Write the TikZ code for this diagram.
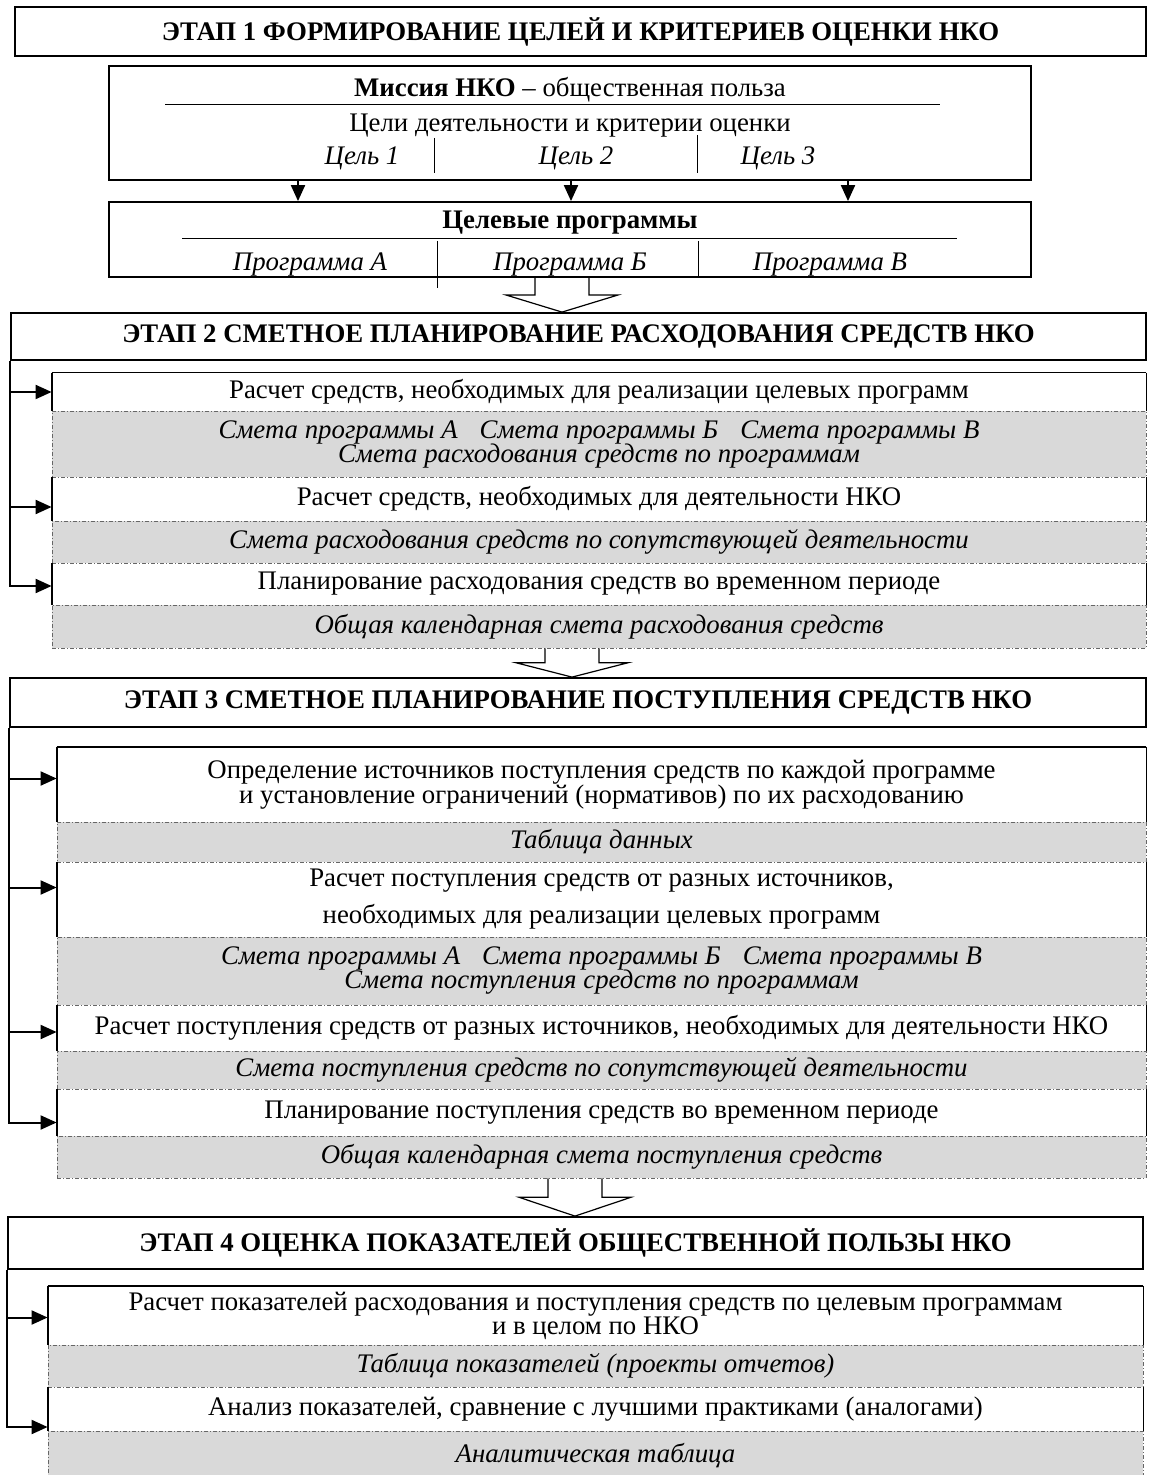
\documentclass[tikz,border=0pt]{standalone}
\usepackage{fontspec}
\setmainfont{Liberation Serif}
\usetikzlibrary{arrows.meta,calc}
\newcommand{\rowfont}{\fontsize{13.4}{11.5}\selectfont\lineskiplimit=-20pt}

\begin{document}
\begin{tikzpicture}[x=0.5pt,y=-0.5pt,>={Triangle[length=8pt,width=7pt]},
    every node/.style={font=\rowfont,inner sep=0pt},
    stage/.style={draw,line width=0.9pt,font=\rowfont\bfseries},
    goalbox/.style={draw,line width=0.9pt},
    whiterow/.style={align=center},
    grayrow/.style={align=center,fill=black!15,draw=black!60,line width=0.4pt,dash pattern=on 2pt off 1pt on 0.5pt off 1pt,font=\rowfont\itshape},
    frame/.style={line width=0.9pt},
    conn/.style={line width=1pt},
    rule/.style={line width=0.5pt},
    fat/.style={line width=0.6pt,line join=miter}]
    \fill[white] (0,0) rectangle (1149,1475);
    \useasboundingbox (0,0) rectangle (1149,1475);

    \foreach \n/\xa/\ya/\xb/\yb/\t in {
        s1/15/7/1146/56/{ЭТАП 1 ФОРМИРОВАНИЕ ЦЕЛЕЙ И КРИТЕРИЕВ ОЦЕНКИ НКО},
        s2/11/313/1146/360/{ЭТАП 2 СМЕТНОЕ ПЛАНИРОВАНИЕ РАСХОДОВАНИЯ СРЕДСТВ НКО},
        s3/10/678/1146/727/{ЭТАП 3 СМЕТНОЕ ПЛАНИРОВАНИЕ ПОСТУПЛЕНИЯ СРЕДСТВ НКО},
        s4/8/1217/1143/1269/{ЭТАП 4 ОЦЕНКА ПОКАЗАТЕЛЕЙ ОБЩЕСТВЕННОЙ ПОЛЬЗЫ НКО}}
        \node[stage,minimum width={(\xb-\xa)*0.5pt},minimum height={(\yb-\ya)*0.5pt}] (\n) at ({(\xa+\xb)/2},{(\ya+\yb)/2}) {\t};

    \node[goalbox,minimum width=461pt,minimum height=57pt] (m) at (570,123) {};
    \node[goalbox,minimum width=461pt,minimum height=37.5pt] (p) at (570,239.5) {};
    \node (mis) at (570,90) {\textbf{Миссия НКО} – общественная польза};
    \node (crit) at (570,126) {Цели деятельности и критерии оценки};
    \node[font=\rowfont\itshape] (g1) at (362,158) {Цель 1};
    \node[font=\rowfont\itshape] (g2) at (576,158) {Цель 2};
    \node[font=\rowfont\itshape] (g3) at (778,158) {Цель 3};
    \node[font=\rowfont\bfseries] (prog) at (570,223) {Целевые программы};
    \node[font=\rowfont\itshape] (pa) at (310,265) {Программа А};
    \node[font=\rowfont\itshape] (pb) at (570,265) {Программа Б};
    \node[font=\rowfont\itshape] (pc) at (830,265) {Программа В};
    \draw[rule] (165,105) -- (940,105) (434,138) -- (434,173) (697,135) -- (697,173);
    \draw[rule] (182,239) -- (957,239) (437,241) -- (437,288) (698,241) -- (698,277);
    \foreach \x in {298,571,848}
        \draw[conn,->] (\x,0 |- m.south) -- (\x,0 |- p.north);

    \foreach \n/\xa/\ya/\xb/\yb/\s/\t in {
        b1/52/373/1146/411/whiterow/{Расчет средств, необходимых для реализации целевых программ},
        b2/52/411/1146/477/grayrow/{Смета программы А\hspace{11pt}Смета программы Б\hspace{11pt}Смета программы В\\[0.5pt]Смета расходования средств по программам},
        b3/52/477/1146/521/whiterow/{Расчет средств, необходимых для деятельности НКО},
        b4/52/521/1146/563/grayrow/{Смета расходования средств по сопутствующей деятельности},
        b5/52/563/1146/605/whiterow/{Планирование расходования средств во временном периоде},
        b6/52/605/1146/648/grayrow/{Общая календарная смета расходования средств},
        c1/57/747/1146/822/whiterow/{Определение источников поступления средств по каждой программе\\[0.8pt]и установление ограничений (нормативов) по их расходованию},
        c2/57/822/1146/862/grayrow/{Таблица данных},
        c3/57/862/1146/937/whiterow/{Расчет поступления средств от разных источников,\\[7pt]необходимых для реализации целевых программ},
        c4/57/937/1146/1005/grayrow/{Смета программы А\hspace{11pt}Смета программы Б\hspace{11pt}Смета программы В\\[0.5pt]Смета поступления средств по программам},
        c5/57/1005/1146/1051/whiterow/{Расчет поступления средств от разных источников, необходимых для деятельности НКО},
        c6/57/1051/1146/1089/grayrow/{Смета поступления средств по сопутствующей деятельности},
        c7/57/1089/1146/1136/whiterow/{Планирование поступления средств во временном периоде},
        c8/57/1136/1146/1178/grayrow/{Общая календарная смета поступления средств},
        d1/48/1286/1143/1345/whiterow/{Расчет показателей расходования и поступления средств по целевым программам\\[0.5pt]и в целом по НКО},
        d2/48/1345/1143/1387/grayrow/{Таблица показателей (проекты отчетов)},
        d3/48/1387/1143/1431/whiterow/{Анализ показателей, сравнение с лучшими практиками (аналогами)},
        d4/48/1431/1143/1480/grayrow/{Аналитическая таблица}}
        \node[\s,minimum width={(\xb-\xa)*0.5pt},minimum height={(\yb-\ya)*0.5pt}] (\n) at ({(\xa+\xb)/2},{(\ya+\yb)/2}) {\t};

    \foreach \r in {b1,b3,b5,c1,c3,c5,c7,d1,d3}
        \draw[frame] (\r.north west) -- (\r.south west) (\r.north east) -- (\r.south east);
    \foreach \r in {b1,c1,d1}
        \draw[frame] (\r.north west) -- (\r.north east);

    \foreach \s/\r/\d in {s2/b1/0,s2/b3/-4,s2/b5/-1,s3/c1/3,s3/c3/6,s3/c5/-2,s3/c7/-5,s4/d1/-1,s4/d3/-9}
        \draw[conn,->] (\s.south west) |- ([yshift=\d pt]\r.west);

    \foreach \x/\u/\l in {562/p/s2,572/b6/s3,575/c8/s4}{
        \path (\x,0 |- \u.south) coordinate (ft) (\x,0 |- \l.north) coordinate (fb);
        \draw[fat] ($(ft)+(-27,0)$) -- ($(ft)!.5!(fb)+(-27,0)$) -- ($(ft)!.5!(fb)+(-56,0)$) -- (fb)
            -- ($(ft)!.5!(fb)+(56,0)$) -- ($(ft)!.5!(fb)+(27,0)$) -- ($(ft)+(27,0)$);
    }
\end{tikzpicture}
\end{document}
